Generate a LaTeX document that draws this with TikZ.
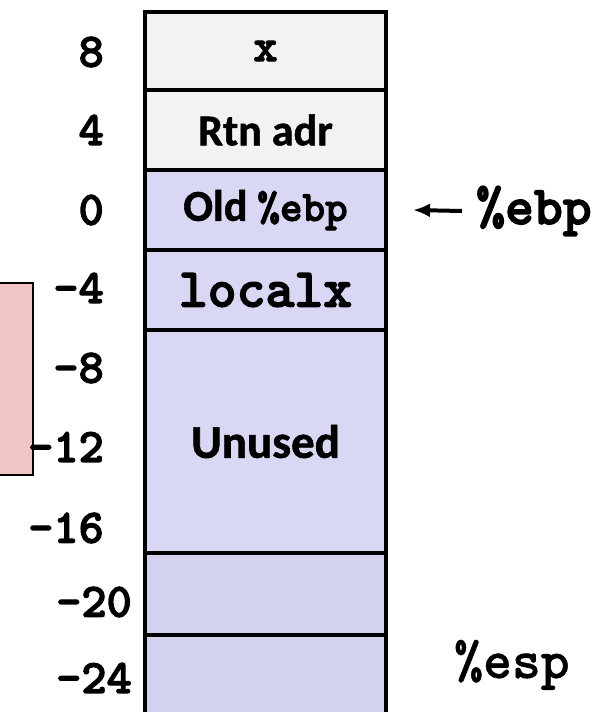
\documentclass[tikz,border=0pt]{standalone}
\usepackage{fontspec}
\setmainfont{Carlito}
\newfontfamily\cellfont{Carlito}[UprightFont={* Bold}, FakeBold=1.2]
\newfontfamily\courbold{lmmonolt10-bold}[Extension=.otf, FakeBold=2.5]
\newfontfamily\courreg{lmmonolt10-bold}[Extension=.otf, FakeBold=0.8]
\usepackage{tikz}
\usetikzlibrary{arrows.meta,positioning}

\definecolor{cellgray}{HTML}{F2F2F2}
\definecolor{celllav}{HTML}{D8D8F4}
\definecolor{celllavdark}{HTML}{D2D2EF}
\definecolor{bufpink}{HTML}{F2C6C6}

\begin{document}
\begin{tikzpicture}[x=1pt,y=-1pt]

\tikzset{
  stackcell/.style={rectangle, draw=black, line width=4.5pt, fill=celllav,
                  minimum width=241pt, inner sep=0pt, outer sep=0pt,
                  font=\cellfont\fontsize{44}{44}\selectfont},
  offlabel/.style={anchor=east, inner sep=0pt,
                  font=\fontsize{48}{48}\selectfont\courbold},
  reglabel/.style={anchor=west, inner xsep=14pt, inner ysep=0pt,
                  font=\fontsize{55}{55}\selectfont\courreg},
  bufframe/.style={rectangle, draw=black, line width=2pt, fill=bufpink,
                  minimum width=53pt, minimum height=192pt, inner sep=0pt},
  ptr/.style={black, line width=4pt, -{Latex[length=17pt, width=14pt]}}
}

\clip (0,0) rectangle (610,712);

% Buffer frame (cut off at the left)
\node[bufframe] (bufbox) at (6.5,379) {};

% Stack cells
\node[stackcell, fill=cellgray, minimum height=78pt] (xcell) at (265.5,51)
  {\courbold\fontsize{46}{46}\selectfont x};
\node[stackcell, fill=cellgray, minimum height=80pt] (rtncell) at (265.5,130) {Rtn adr};
\node[stackcell, minimum height=80pt] (oldcell) at (265.5,210)
  {Old {\courbold\fontsize{43}{43}\selectfont\%ebp}};
\node[stackcell, minimum height=80pt] (localcell) at (265.5,290)
  {\courbold\fontsize{55}{55}\selectfont localx};
\node[stackcell, minimum height=223pt, font=\cellfont\fontsize{47}{47}\selectfont] (unusedcell) at (265.5,441.5) {Unused};
\node[stackcell, fill=celllavdark, minimum height=82pt] (cell20) at (265.5,594) {};
\node[stackcell, fill=celllavdark, minimum height=90pt] (cell24) at (265.5,680) {};

% Offsets
\node[offlabel] (off8)  at (104,52)  {8};
\node[offlabel] (off4)  at (104,130) {4};
\node[offlabel] (off0)  at (104,210) {0};
\node[offlabel] (offm4) at (104,288) {-4};
\node[offlabel] (offm8) at (104,368) {-8};
\node[offlabel] (offm12) at (104,447) {-12};
\node[offlabel] (offm16) at (104,528) {-16};
\node[offlabel] (offm20) at (132,602) {-20};
\node[offlabel] (offm24) at (132,678) {-24};

% Registers
\coordinate (ebptip) at (413,210);
\node[reglabel, font=\fontsize{55}{55}\selectfont\courbold] (ebplbl) at (462,211) {\%ebp};
\draw[ptr] (ebplbl.west) -- (ebptip);
\node[reglabel, anchor=base west, inner xsep=0pt] (esplbl) at (454,678) {\%esp};

\end{tikzpicture}
\end{document}
